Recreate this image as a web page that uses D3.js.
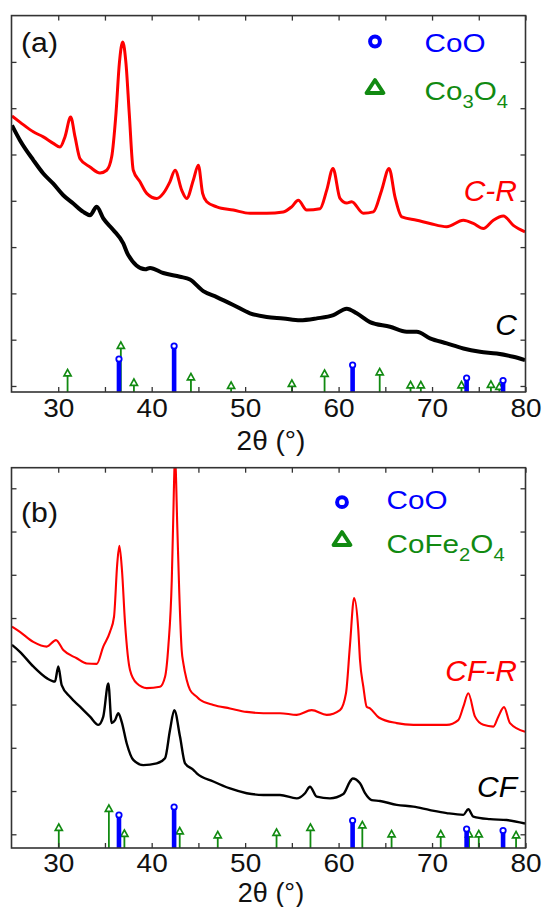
<!DOCTYPE html>
<html>
<head>
<meta charset="utf-8">
<title>XRD C / CF</title>
<script src="https://cdnjs.cloudflare.com/ajax/libs/d3/7.8.5/d3.min.js"></script>
<style>
  body { margin: 0; background: #fff; }
  svg text { font-family: "Liberation Sans", Arial, sans-serif; }
</style>
</head>
<body>
<svg id="chart" width="542" height="907"></svg>
<script>
// ---- data (2theta in degrees, intensity in a.u.) ----
var xTicks = [30, 35, 40, 45, 50, 55, 60, 65, 70, 75, 80];

// panel (a)
var sampleCR = [[25.05,5.83],[25.9,5.70],[27.33,5.49],[28.4,5.38],[29.47,5.24],[30.19,5.16],[30.72,5.38],[31.33,5.81],[31.8,5.38],[32.33,4.91],[33.4,4.73],[34.47,4.60],[35.19,4.66],[35.72,4.95],[36.18,5.89],[36.54,6.97],[36.9,7.43],[37.25,6.97],[37.6,5.89],[38.03,4.66],[38.75,4.41],[39.47,4.16],[40.54,4.05],[41.24,4.16],[41.95,4.41],[42.5,4.66],[43.21,4.23],[43.75,4.05],[44.46,4.45],[44.99,4.77],[45.45,4.16],[45.89,3.98],[46.96,3.87],[48.73,3.80],[50.52,3.73],[52.31,3.73],[54.08,3.76],[54.98,3.87],[55.69,4.01],[56.59,3.80],[58.01,3.83],[58.73,4.23],[59.4,4.70],[60.15,4.05],[60.87,3.95],[61.4,3.98],[62.65,3.73],[63.72,3.76],[64.61,4.23],[65.4,4.70],[66.04,4.08],[66.76,3.65],[68.36,3.58],[69.78,3.51],[71.57,3.44],[73.35,3.58],[74.42,3.51],[75.49,3.40],[76.56,3.58],[77.63,3.67],[78.7,3.47],[79.95,3.33]];
var sampleC = [[25.05,5.63],[25.9,5.31],[27.33,4.88],[28.4,4.59],[29.47,4.37],[30.54,4.12],[31.61,3.94],[32.68,3.76],[33.4,3.69],[34.12,3.87],[34.82,3.62],[35.89,3.37],[36.96,3.08],[37.46,2.84],[39.3,2.52],[39.82,2.55],[41.24,2.44],[43.03,2.36],[44.1,2.30],[45.52,2.05],[46.96,1.92],[48.73,1.75],[50.52,1.57],[52.31,1.49],[54.08,1.46],[55.87,1.42],[57.66,1.46],[59.44,1.53],[60.87,1.67],[61.94,1.57],[63.36,1.38],[65.5,1.28],[67.29,1.17],[68.36,1.17],[69.78,1.03],[71.57,0.92],[73.35,0.81],[75.13,0.74],[76.92,0.70],[78.7,0.63],[79.95,0.56]];
var cooPos = [36.5, 42.4, 61.5, 73.7, 77.6];
var cooIntA = [66, 92, 54, 28, 23];
var co3o4Pos = [31.0, 36.7, 38.1, 44.2, 48.5, 55.0, 58.5, 64.4, 67.7, 68.8, 73.15, 76.3, 77.2];
var co3o4Int = [45, 100, 26, 37, 20, 24, 44, 47, 21, 21, 21, 22, 18];

// panel (b)
var sampleCFR = [[25.05,4.80],[25.9,4.68],[27.33,4.45],[28.77,4.34],[29.76,4.49],[30.54,4.26],[31.98,4.07],[33.05,3.95],[34.12,3.94],[34.82,4.34],[35.54,4.68],[35.97,5.03],[36.32,6.27],[36.54,6.67],[36.82,6.11],[37.15,4.88],[37.68,3.80],[38.4,3.49],[39.47,3.38],[40.89,3.41],[41.43,3.64],[41.78,4.34],[42.15,5.88],[42.28,7.04],[42.5,8.7],[42.75,7.04],[42.95,5.6],[43.21,4.26],[43.39,3.95],[43.75,3.57],[44.1,3.34],[44.82,3.18],[45.17,3.11],[46.6,2.99],[48.38,2.91],[50.17,2.83],[51.95,2.80],[53.73,2.80],[55.52,2.76],[57.12,2.87],[58.73,2.76],[60.15,2.87],[60.79,3.26],[61.22,4.38],[61.66,5.46],[62.11,4.72],[62.29,4.03],[62.65,3.41],[63.0,2.95],[63.36,2.91],[64.3,2.70],[66.22,2.57],[68.0,2.53],[69.78,2.53],[71.57,2.53],[72.81,2.64],[73.35,2.95],[73.88,3.26],[74.6,2.72],[75.49,2.53],[76.56,2.49],[77.09,2.72],[77.7,2.94],[78.34,2.57],[79.95,2.37]];
var sampleCF = [[25.05,4.38],[25.9,4.22],[27.33,3.88],[28.77,3.61],[29.65,3.53],[30.01,3.88],[30.37,3.45],[31.26,3.18],[32.33,2.95],[33.4,2.72],[34.29,2.53],[34.82,2.72],[35.36,3.49],[35.72,2.57],[36.08,2.64],[36.43,2.80],[36.79,2.60],[37.33,2.10],[38.03,1.72],[39.1,1.60],[40.54,1.64],[41.43,1.76],[41.96,2.41],[42.42,2.87],[43.03,2.26],[43.57,1.64],[44.46,1.49],[44.82,1.41],[46.6,1.22],[48.38,1.06],[50.17,0.95],[51.95,0.91],[53.73,0.91],[55.52,0.83],[56.41,0.95],[56.94,1.10],[57.66,0.87],[59.08,0.83],[60.51,0.93],[61.22,1.22],[61.5,1.29],[62.29,1.18],[62.83,0.95],[63.54,0.79],[64.43,0.77],[66.22,0.68],[68.0,0.64],[69.78,0.56],[71.57,0.49],[73.35,0.45],[73.88,0.58],[74.42,0.41],[76.2,0.35],[77.99,0.33],[79.95,0.25]];
var cooIntB = [66, 82, 55, 38, 35];
var cfoPos = [30.06, 35.42, 37.08, 43.0, 47.07, 53.36, 56.99, 62.54, 65.67, 70.93, 73.96, 75.0, 78.99];
var cfoInt = [48, 86, 36, 41, 33, 38, 48, 53, 35, 35, 35, 35, 33];

// ---- layout ----
var svg = d3.select("#chart");
var x = d3.scaleLinear().domain([25, 80]).range([11.5, 525.5]);
var blue = "#0000ff", green = "#118a11", red = "#ff0000";
var stretch = "scale(1.12,1)";

var panels = [
  { tag: "(a)", top: 15.6, bottom: 392, yDom: [-0.13, 8.0], yTicks: d3.range(0, 8), pad: 7, titleY: 449.5, titleSize: 28,
    curves: [{ d: sampleCR, c: red, w: 3.0 }, { d: sampleC, c: "#000", w: 4.0 }],
    labels: [{ t: "C-R", c: red, y: 200.7 }, { t: "C", c: "#000", y: 335 }],
    coo: cooIntA, other: { pos: co3o4Pos, val: co3o4Int },
    legend: { x: 375, y1: 41.5, y2: 87, tx: 424.5, b1: 52, b2: 100, name: ["Co", "3", "O", "4"] },
    tagY: 51.5 },
  { tag: "(b)", top: 467.7, bottom: 848, yDom: [-0.317, 8.476], yTicks: d3.range(0, 9), pad: 6, titleY: 901.5, titleSize: 27,
    curves: [{ d: sampleCFR, c: red, w: 2.1 }, { d: sampleCF, c: "#000", w: 2.4 }],
    labels: [{ t: "CF-R", c: red, y: 680.7 }, { t: "CF", c: "#000", y: 797.3 }],
    coo: cooIntB, other: { pos: cfoPos, val: cfoInt },
    legend: { x: 342, y1: 502.2, y2: 539, tx: 386.5, b1: 509, b2: 553, name: ["CoFe", "2", "O", "4"] },
    tagY: 522 }
];

panels.forEach(function (p, i) {
  var y = d3.scaleLinear().domain(p.yDom).range([p.bottom, p.top]);
  var yS = d3.scaleLinear().domain([0, 100]).range([p.bottom, p.bottom - 50]);
  var g = svg.append("g");

  g.append("clipPath").attr("id", "clip" + i)
    .append("rect").attr("x", x.range()[0]).attr("y", p.top)
    .attr("width", x.range()[1] - x.range()[0]).attr("height", p.bottom - p.top);

  // curves
  var line = d3.line().curve(d3.curveMonotoneX)
    .x(function (d) { return x(d[0]); }).y(function (d) { return y(d[1]); });
  p.curves.forEach(function (c) {
    g.append("path").attr("d", line(c.d)).attr("fill", "none")
      .attr("stroke", c.c).attr("stroke-width", c.w).attr("stroke-linejoin", "round")
      .attr("clip-path", "url(#clip" + i + ")");
  });

  // reference sticks: spinel phase (green arrows)
  p.other.pos.forEach(function (pos, k) {
    var px = x(pos), tip = yS(p.other.val[k]);
    g.append("line").attr("x1", px).attr("x2", px).attr("y1", p.bottom).attr("y2", tip + 6)
      .attr("stroke", green).attr("stroke-width", 1.8);
    g.append("path").attr("d", "M" + px + "," + tip + "L" + (px + 3.6) + "," + (tip + 6.4) + "L" + (px - 3.6) + "," + (tip + 6.4) + "Z")
      .attr("fill", "#fff").attr("stroke", green).attr("stroke-width", 1.6);
  });
  // CoO (blue bars with circles)
  cooPos.forEach(function (pos, k) {
    var px = x(pos), top = yS(p.coo[k]);
    g.append("rect").attr("x", px - 2.3).attr("width", 4.6).attr("y", top).attr("height", p.bottom - top)
      .attr("fill", blue);
    g.append("circle").attr("cx", px).attr("cy", top).attr("r", 2.7)
      .attr("fill", "#fff").attr("stroke", blue).attr("stroke-width", 1.8);
  });

  // axes with inward ticks
  var bot = g.append("g").attr("transform", "translate(0," + p.bottom + ")")
    .call(d3.axisBottom(x).tickValues(xTicks).tickSize(-5).tickPadding(p.pad)
      .tickFormat(function (d) { return d % 10 === 0 ? d : ""; }));
  bot.selectAll("text").attr("font-size", 25).attr("fill", "#111").attr("transform", stretch)
    .style("font-family", "'Liberation Sans', Arial, sans-serif");
  g.append("g").attr("transform", "translate(0," + p.top + ")")
    .call(d3.axisTop(x).tickValues(xTicks).tickSize(-5).tickFormat(""));
  g.append("g").attr("transform", "translate(" + x.range()[0] + ",0)")
    .call(d3.axisLeft(y).tickValues(p.yTicks).tickSize(-5).tickFormat(""));
  g.append("g").attr("transform", "translate(" + x.range()[1] + ",0)")
    .call(d3.axisRight(y).tickValues(p.yTicks).tickSize(-5).tickFormat(""));
  g.selectAll(".domain").remove();
  g.selectAll(".tick line").attr("stroke", "#333").attr("stroke-width", 1.3);

  g.append("rect").attr("x", x.range()[0]).attr("y", p.top)
    .attr("width", x.range()[1] - x.range()[0]).attr("height", p.bottom - p.top)
    .attr("fill", "none").attr("stroke", "#333").attr("stroke-width", 1.6);

  g.append("text").attr("transform", "translate(271," + p.titleY + ")")
    .attr("text-anchor", "middle").attr("font-size", p.titleSize).attr("fill", "#111").text("2θ (°)");

  // panel tag
  g.append("text").attr("transform", "translate(21," + p.tagY + ") " + stretch)
    .attr("font-size", 27).attr("fill", "#111").text(p.tag);

  // curve labels
  p.labels.forEach(function (l) {
    g.append("text").attr("x", 517).attr("y", l.y).attr("text-anchor", "end")
      .attr("font-size", 30).attr("font-style", "italic").attr("fill", l.c).text(l.t);
  });

  // legend
  var L = p.legend;
  g.append("circle").attr("cx", L.x).attr("cy", L.y1).attr("r", 4.9)
    .attr("fill", "none").attr("stroke", blue).attr("stroke-width", 4);
  g.append("path").attr("d", "M" + L.x + "," + (L.y2 - 7) + "L" + (L.x + 8.5) + "," + (L.y2 + 6) + "L" + (L.x - 8.5) + "," + (L.y2 + 6) + "Z")
    .attr("fill", "none").attr("stroke", green).attr("stroke-width", 3.8).attr("stroke-linejoin", "round");
  g.append("text").attr("transform", "translate(" + L.tx + "," + L.b1 + ") " + stretch)
    .attr("font-size", 26.5).attr("fill", blue).text("CoO");
  var t2 = g.append("text").attr("transform", "translate(" + L.tx + "," + L.b2 + ") " + stretch)
    .attr("font-size", 26.5).attr("fill", green);
  t2.append("tspan").text(L.name[0]);
  t2.append("tspan").attr("font-size", 18).attr("dy", 8).text(L.name[1]);
  t2.append("tspan").attr("dy", -8).text(L.name[2]);
  t2.append("tspan").attr("font-size", 18).attr("dy", 8).text(L.name[3]);
});
</script>
</body>
</html>
